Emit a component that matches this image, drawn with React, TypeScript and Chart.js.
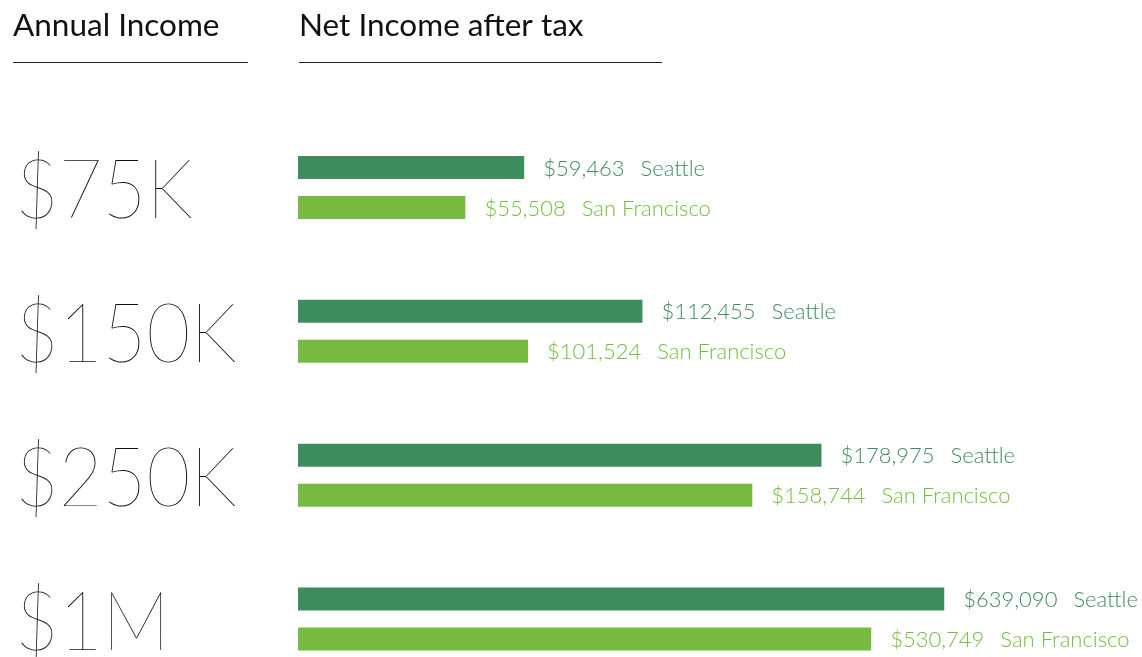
import React, { useEffect, useRef } from "react";
import { Chart, registerables } from "chart.js";

Chart.register(...registerables);

// ---- data ----
const incomeLevels = ["$75K", "$150K", "$250K", "$1M"];
const cities = ["Seattle", "San Francisco"];
const seattleNet = [59463, 112455, 178975, 639090];
const sfNet = [55508, 101524, 158744, 530749];
// drawn bar lengths (percent of the longest bar) – the infographic does not scale bars linearly
const seattleBar = [35.0, 53.3, 81.0, 100];
const sfBar = [25.9, 35.6, 70.3, 88.7];
const headings = ["Annual Income", "Net Income after tax"];
const seriesColors = ["#3f8c5f", "#77bc41"];

const fmt = (v: number) => "$" + v.toLocaleString("en-US");

const labelPlugin = {
  id: "infoLabels",
  afterDatasetsDraw(chart: any) {
    const ctx = chart.ctx;
    const nets = [seattleNet, sfNet];
    ctx.save();
    chart.data.datasets.forEach((ds: any, di: number) => {
      const meta = chart.getDatasetMeta(di);
      meta.data.forEach((bar: any, i: number) => {
        ctx.fillStyle = seriesColors[di];
        ctx.font = "300 22px Lato";
        ctx.textBaseline = "middle";
        ctx.textAlign = "left";
        const valueText = fmt(nets[di][i]);
        const x = bar.x + 19;
        const y = bar.y + 1;
        ctx.fillText(valueText, x, y);
        const w = ctx.measureText(valueText).width;
        ctx.fillText(cities[di], x + w + 16, y);
      });
    });
    ctx.restore();
  },
  afterDraw(chart: any) {
    const ctx = chart.ctx;
    const left = chart.chartArea.left;
    const yScale = chart.scales.y;
    ctx.save();
    // big income-level labels, placed on the category axis ticks
    ctx.fillStyle = "#111";
    ctx.font = "100 83px Lato";
    ctx.textBaseline = "alphabetic";
    ctx.textAlign = "left";
    incomeLevels.forEach((lab, i) => {
      const y = yScale.getPixelForTick(i) + 30.5;
      ctx.save();
      ctx.translate(15, y);
      ctx.scale(0.91, 1);
      ctx.fillText(lab, 0, 0);
      ctx.restore();
    });
    // headings
    ctx.fillStyle = "#111";
    ctx.font = "400 31.5px Lato";
    ctx.fillText(headings[0], 13, 36);
    ctx.fillText(headings[1], left + 1, 36);
    ctx.fillStyle = "#222";
    ctx.fillRect(13, 62, 235, 1);
    ctx.fillRect(left + 1, 62, 363, 1);
    ctx.restore();
  },
};

export default function App() {
  const canvasRef = useRef<HTMLCanvasElement | null>(null);

  useEffect(() => {
    if (!canvasRef.current) return;
    const chart = new Chart(canvasRef.current, {
      type: "bar",
      data: {
        labels: incomeLevels,
        datasets: [
          {
            label: cities[0],
            data: seattleBar,
            backgroundColor: seriesColors[0],
            categoryPercentage: 0.556,
            barPercentage: 0.575,
          },
          {
            label: cities[1],
            data: sfBar,
            backgroundColor: seriesColors[1],
            categoryPercentage: 0.556,
            barPercentage: 0.575,
          },
        ],
      },
      options: {
        indexAxis: "y",
        animation: false,
        responsive: false,
        maintainAspectRatio: false,
        devicePixelRatio: 1,
        layout: { padding: { left: 17, top: 115.5, right: 0, bottom: 0 } },
        plugins: {
          legend: { display: false },
          tooltip: { enabled: false },
          title: { display: false },
        },
        scales: {
          x: {
            display: false,
            min: 0,
            max: 130.6,
          },
          y: {
            grid: { display: false },
            border: { display: false },
            ticks: { display: false },
            afterFit(scale: any) {
              scale.width = 281;
            },
          },
        },
      },
      plugins: [labelPlugin],
    });
    return () => chart.destroy();
  }, []);

  return (
    <div
      style={{
        position: "absolute",
        left: 0,
        top: 0,
        width: 1142,
        height: 657,
        overflow: "hidden",
        background: "#fff",
      }}
    >
      <canvas ref={canvasRef} width={1142} height={691} style={{ display: "block" }} />
    </div>
  );
}
